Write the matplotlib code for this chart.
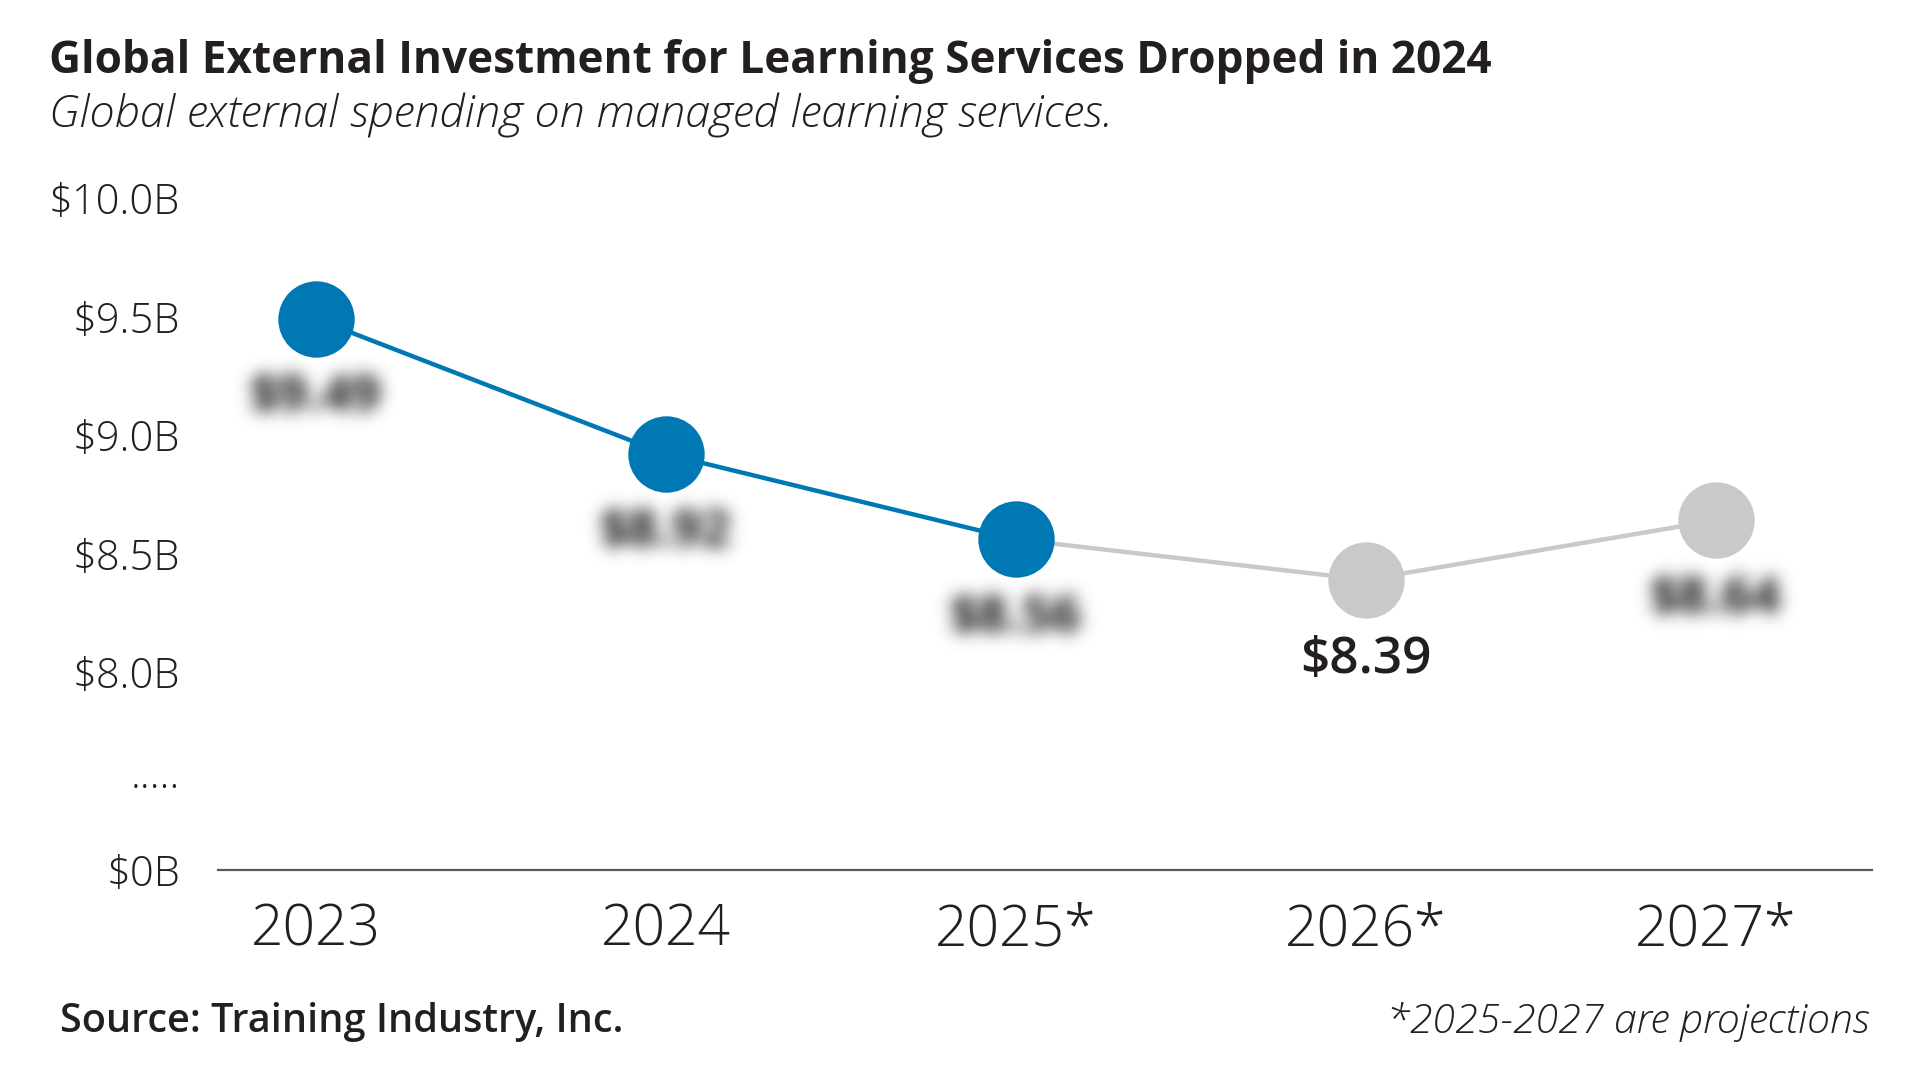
import numpy as np
import matplotlib
matplotlib.use("Agg")
import matplotlib.pyplot as plt
from matplotlib.ticker import FixedLocator
from matplotlib.colors import to_rgb

years = ["2023", "2024", "2025*", "2026*", "2027*"]
spend = [9.49, 8.92, 8.56, 8.39, 8.64]
value_labels = ["$9.49", "$8.92", "$8.56", "$8.39", "$8.64"]
n_actual = 3        # 2023-2025 in blue, rest projections in grey
clear_label = 3     # only the 2026 value is readable, the others are blurred

# broken axis: $0B and the dots sit below the $8.0B tick
zero_pos = 7.165
dots_pos = 7.58
ytick_pos = [zero_pos, dots_pos, 8.0, 8.5, 9.0, 9.5, 10.0]
ytick_lab = ["$0B", ".....", "$8.0B", "$8.5B", "$9.0B", "$9.5B", "$10.0B"]

BLUE = "#0078b4"
GREY = "#c8c9c8"
INK = "#231f20"

plt.rcParams["font.family"] = ["Open Sans", "DejaVu Sans"]


def make_blur(sigma, color):
    rgb = to_rgb(color)

    def blur(im, dpi):
        pad = int(3 * sigma)
        a = np.pad(im[:, :, 3], pad)
        x = np.arange(-pad, pad + 1)
        k = np.exp(-0.5 * (x / sigma) ** 2)
        k /= k.sum()
        a = np.apply_along_axis(lambda r: np.convolve(r, k, mode="same"), 0, a)
        a = np.apply_along_axis(lambda r: np.convolve(r, k, mode="same"), 1, a)
        out = np.zeros(a.shape + (4,))
        out[..., :3] = rgb
        out[..., 3] = np.clip(a * 1.15, 0, 1)
        return out, -pad, -pad
    return blur


fig = plt.figure(figsize=(19.2, 10.8), dpi=100)
W, H = 1920, 1080
ax = fig.add_axes([218 / W, (H - 870) / H, (1872 - 218) / W, (870 - 127) / H])

x = np.arange(len(years))
ax.plot(x[n_actual - 1:], spend[n_actual - 1:], color=GREY, lw=3.2, zorder=2)
ax.plot(x[:n_actual], spend[:n_actual], color=BLUE, lw=3.2, zorder=3)
ax.plot(x[n_actual:], spend[n_actual:], "o", color=GREY, ms=55, mew=0,
        zorder=4, clip_on=False)
ax.plot(x[:n_actual], spend[:n_actual], "o", color=BLUE, ms=55, mew=0,
        zorder=5, clip_on=False)

for i, (xi, v, lab) in enumerate(zip(x, spend, value_labels)):
    if i == clear_label:
        ax.annotate(lab, (xi, v), xytext=(0, -58), textcoords="offset points",
                    ha="center", va="center", fontsize=37, fontweight="semibold",
                    color=INK)
    else:
        t = ax.annotate(lab, (xi, v), xytext=(0, -57), textcoords="offset points",
                        ha="center", va="center", fontsize=37, fontweight="bold",
                        color="#444444")
        t.set_agg_filter(make_blur(6, "#444444"))

ax.set_xlim(-0.28, 4.446)
ax.set_ylim(zero_pos, 10.3)
ax.set_xticks(x)
ax.set_xticklabels(years)
ax.yaxis.set_major_locator(FixedLocator(ytick_pos))
ax.set_yticklabels(ytick_lab)

for s in ["left", "right", "top"]:
    ax.spines[s].set_visible(False)
ax.spines["bottom"].set_color("#58595b")
ax.spines["bottom"].set_linewidth(1.6)
ax.tick_params(axis="both", length=0, colors=INK)
ax.tick_params(axis="y", pad=27, labelsize=30)
ax.tick_params(axis="x", pad=23, labelsize=41)
for lbl in ax.get_yticklabels() + ax.get_xticklabels():
    lbl.set_fontweight("light")

fig.text(49 / W, 1 - 62 / H,
         "Global External Investment for Learning Services Dropped in 2024",
         fontsize=31.8, fontweight="bold", color=INK, va="center", ha="left")
fig.text(49 / W, 1 - 115 / H,
         "Global external spending on managed learning services.",
         fontsize=32.5, fontstyle="italic", fontweight="light", color=INK,
         va="center", ha="left")
fig.text(60 / W, 1 - 1022 / H, "Source: Training Industry, Inc.",
         fontsize=28.5, fontweight="semibold", color=INK, va="center", ha="left")
fig.text(1869 / W, 1 - 1022 / H, "*2025-2027 are projections",
         fontsize=29.5, fontstyle="italic", fontweight="light", color=INK,
         va="center", ha="right")

fig.savefig("out.png", dpi=100, facecolor="white")
